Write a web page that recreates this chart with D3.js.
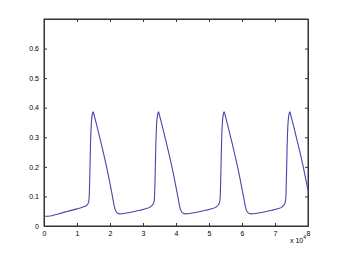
<!DOCTYPE html>
<html>
<head>
<meta charset="utf-8">
<script src="https://cdn.jsdelivr.net/npm/d3@7"></script>
<style>
  body { margin: 0; background: #fff; }
  svg text { font-family: "Liberation Sans", Arial, sans-serif; font-size: 7px; fill: #000; }
</style>
</head>
<body>
<div id="chart"></div>
<script>
// x values in units of 10^4
const xs = [
  0, 0.2, 0.4, 0.6, 0.8, 1.0, 1.1, 1.2, 1.3, 1.35, 1.37, 1.39, 1.41, 1.43, 1.46, 1.49, 1.53, 1.70, 1.93, 2.07, 2.15, 2.20, 2.30,
  2.5, 2.7, 2.9, 3.1, 3.2, 3.28, 3.33, 3.35, 3.37, 3.39, 3.41, 3.44, 3.47, 3.51, 3.68, 3.91, 4.05, 4.13, 4.18, 4.28,
  4.5, 4.7, 4.9, 5.1, 5.2, 5.27, 5.32, 5.34, 5.36, 5.38, 5.40, 5.43, 5.46, 5.50, 5.67, 5.90, 6.04, 6.12, 6.17, 6.27,
  6.5, 6.7, 6.9, 7.1, 7.2, 7.26, 7.31, 7.33, 7.35, 7.37, 7.39, 7.42, 7.45, 7.49, 7.66, 7.89, 8.0
];
const ys = [
  0.033, 0.034, 0.040, 0.046, 0.052, 0.058, 0.061, 0.065, 0.071, 0.080, 0.100, 0.180, 0.280, 0.340, 0.375, 0.386, 0.370, 0.294, 0.182, 0.103, 0.058, 0.046, 0.041,
  0.044, 0.048, 0.053, 0.059, 0.063, 0.070, 0.080, 0.100, 0.180, 0.280, 0.340, 0.375, 0.386, 0.370, 0.294, 0.182, 0.103, 0.058, 0.046, 0.041,
  0.044, 0.048, 0.053, 0.059, 0.063, 0.070, 0.080, 0.100, 0.180, 0.280, 0.340, 0.375, 0.386, 0.370, 0.294, 0.182, 0.103, 0.058, 0.046, 0.041,
  0.044, 0.048, 0.053, 0.059, 0.063, 0.070, 0.080, 0.100, 0.180, 0.280, 0.340, 0.375, 0.386, 0.370, 0.294, 0.182, 0.120
];
const xTicks = [0, 1, 2, 3, 4, 5, 6, 7, 8];
const yTicks = [0, 0.1, 0.2, 0.3, 0.4, 0.5, 0.6];

const W = 340, H = 254;
const margin = {top: 19, right: 32, bottom: 28, left: 44};
const width = W - margin.left - margin.right;
const height = H - margin.top - margin.bottom;

const svg = d3.select("#chart").append("svg")
    .attr("width", W)
    .attr("height", H);

const g = svg.append("g")
    .attr("transform", "translate(" + margin.left + "," + margin.top + ")");

const x = d3.scaleLinear().domain([0, 8]).range([0, width]);
const y = d3.scaleLinear().domain([0, 0.7]).range([height, 0]);

// axes with inward ticks on all four sides
const fmtY = d => d === 0 ? "0" : d3.format(".1f")(d);

g.append("g")
    .attr("transform", "translate(0," + height + ")")
    .call(d3.axisBottom(x).tickValues(xTicks).tickFormat(d3.format("d")).tickSizeInner(-3).tickSizeOuter(0).tickPadding(5));
g.append("g")
    .call(d3.axisTop(x).tickValues(xTicks).tickFormat("").tickSizeInner(-3).tickSizeOuter(0));
g.append("g")
    .call(d3.axisLeft(y).tickValues(yTicks).tickFormat(fmtY).tickSizeInner(-3).tickSizeOuter(0).tickPadding(5));
g.append("g")
    .attr("transform", "translate(" + width + ",0)")
    .call(d3.axisRight(y).tickValues(yTicks).tickFormat("").tickSizeInner(-3).tickSizeOuter(0));

g.selectAll(".domain").attr("stroke", "#333");
g.selectAll(".tick line").attr("stroke", "#333");
g.selectAll(".tick text").attr("font-size", 7).attr("font-family", "Liberation Sans, Arial, sans-serif");

g.append("rect")
    .attr("width", width).attr("height", height)
    .attr("fill", "none").attr("stroke", "#333").attr("stroke-width", 1);

const data = xs.map((d, i) => ({x: d, y: ys[i]}));
g.append("path")
    .datum(data)
    .attr("fill", "none")
    .attr("stroke", "#4646a8")
    .attr("stroke-width", 1.1)
    .attr("d", d3.line().x(d => x(d.x)).y(d => y(d.y)).curve(d3.curveMonotoneX));

// exponent label
const ex = g.append("text")
    .attr("x", width - 18)
    .attr("y", height + 17);
ex.append("tspan").text("x 10");
ex.append("tspan").attr("dy", -4).attr("font-size", 5).text("4");
</script>
</body>
</html>
